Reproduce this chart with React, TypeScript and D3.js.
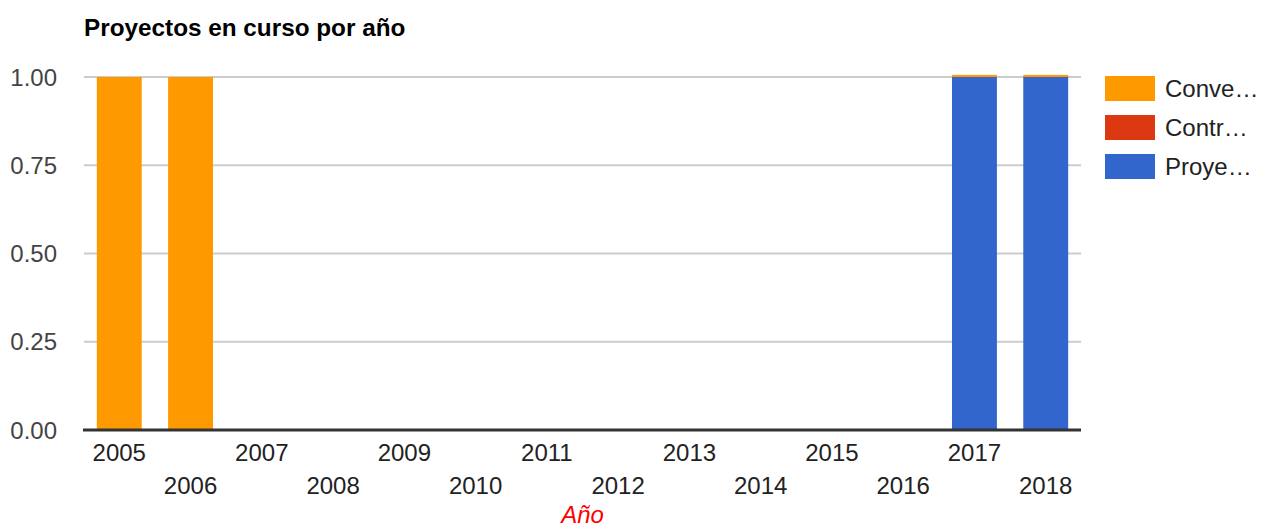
import React from "react";
import { scaleBand, scaleLinear, stack, stackOrderNone } from "d3";

const years = ["2005", "2006", "2007", "2008", "2009", "2010", "2011", "2012", "2013", "2014", "2015", "2016", "2017", "2018"];
const convenios = [1, 1, 0, 0, 0, 0, 0, 0, 0, 0, 0, 0, 0.006, 0.006];
const contratos = [0, 0, 0, 0, 0, 0, 0, 0, 0, 0, 0, 0, 0, 0];
const proyectos = [0, 0, 0, 0, 0, 0, 0, 0, 0, 0, 0, 0, 1, 1];
const yTicks = [0, 0.25, 0.5, 0.75, 1];

const series = [
  { key: "proyectos", label: "Proye…", color: "#3366cc", values: proyectos },
  { key: "contratos", label: "Contr…", color: "#dc3912", values: contratos },
  { key: "convenios", label: "Conve…", color: "#ff9900", values: convenios },
];
const legend = [series[2], series[1], series[0]];

const W = 1277;
const H = 529;
const left = 84;
const right = 1081;
const top = 77;
const bottom = 430;
const font = "Arial, 'Liberation Sans', sans-serif";

export default function App() {
  const x = scaleBand().domain(years).range([left, right]).paddingInner(0.37).paddingOuter(0.18);
  const y = scaleLinear().domain([0, 1]).range([bottom, top]);

  const rows = years.map((yr, i) => {
    const r: Record<string, any> = { year: yr };
    series.forEach((s) => (r[s.key] = s.values[i]));
    return r;
  });
  const layers = stack().keys(series.map((s) => s.key)).order(stackOrderNone)(rows as any);

  return (
    <svg
      width={W}
      height={H}
      style={{ position: "absolute", left: 0, top: 0, display: "block", background: "#fff" }}
      fontFamily={font}
    >
      <text x={left} y={36} fontSize={24.3} fontWeight="bold" fill="#000">
        Proyectos en curso por año
      </text>

      {yTicks.map((t) => (
        <g key={t}>
          {t > 0 && <line x1={left} x2={right} y1={y(t)} y2={y(t)} stroke="#cccccc" strokeWidth={2} />}
          <text x={57} y={y(t) + 8.5} textAnchor="end" fontSize={24} fill="#444">
            {t.toFixed(2)}
          </text>
        </g>
      ))}

      {layers.map((layer, li) => (
        <g key={layer.key} fill={series[li].color}>
          {layer.map((d, i) =>
            d[1] - d[0] > 0 ? (
              <rect
                key={i}
                x={x(years[i])}
                width={x.bandwidth()}
                y={y(d[1])}
                height={y(d[0]) - y(d[1])}
              />
            ) : null
          )}
        </g>
      ))}

      <line x1={left - 1} x2={right} y1={bottom} y2={bottom} stroke="#333" strokeWidth={3} />

      {years.map((yr, i) => (
        <text
          key={yr}
          x={(x(yr) ?? 0) + x.bandwidth() / 2}
          y={i % 2 === 0 ? 461 : 494}
          textAnchor="middle"
          fontSize={24}
          fill="#222"
        >
          {yr}
        </text>
      ))}

      <text x={(left + right) / 2} y={523} textAnchor="middle" fontSize={24} fontStyle="italic" fill="#ff0000">
        Año
      </text>

      {legend.map((s, i) => (
        <g key={s.key} transform={`translate(1105, ${76 + i * 39})`}>
          <rect width={50} height={25} fill={s.color} />
          <text x={60} y={21} fontSize={24} fill="#222">
            {s.label}
          </text>
        </g>
      ))}
    </svg>
  );
}
